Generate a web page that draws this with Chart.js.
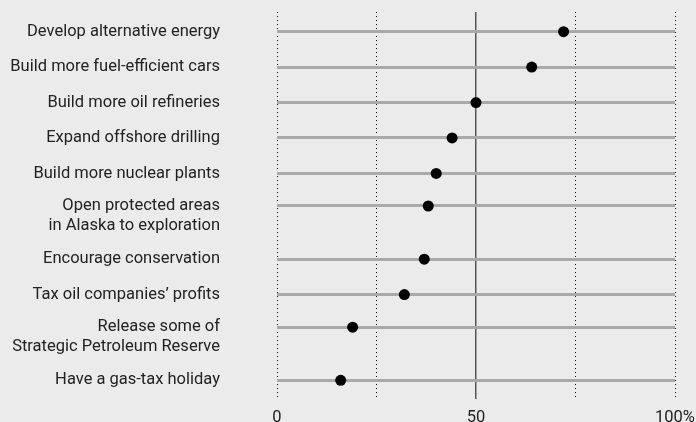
<!DOCTYPE html>
<html>
<head>
<meta charset="utf-8">
<script src="https://cdn.jsdelivr.net/npm/chart.js@4"></script>
<style>
  html, body { margin: 0; padding: 0; background: #ebebeb; overflow: hidden; }
  #wrap { width: 696px; height: 422px; overflow: hidden; }
  canvas { display: block; }
</style>
</head>
<body>
<div id="wrap"><canvas id="c" width="696" height="434"></canvas></div>
<script>
// survey answers, top to bottom
const categories = [
  ['Develop alternative energy'],
  ['Build more fuel-efficient cars'],
  ['Build more oil refineries'],
  ['Expand offshore drilling'],
  ['Build more nuclear plants'],
  ['Open protected areas', 'in Alaska to exploration'],
  ['Encourage conservation'],
  ['Tax oil companies\u2019 profits'],
  ['Release some of', 'Strategic Petroleum Reserve'],
  ['Have a gas-tax holiday']
];
const values = [72, 64, 50, 44, 40, 38, 37, 32, 19, 16];
const xTicks = [0, 25, 50, 75, 100];
const xTickLabels = ['0', '', '50', '', '100%'];

// rows with a second label line get a bit more room below them
const rowPos = [];
categories.forEach((lines, i) => {
  if (i === 0) { rowPos.push(0); return; }
  let step = 1;
  if (lines.length > 1) step -= 0.08;
  if (categories[i - 1].length > 1) step += 0.5;
  rowPos.push(rowPos[i - 1] + step);
});

const FONT = { family: 'Roboto, "Noto Sans", sans-serif', size: 16.5 };
const INK = '#222';
const CLEAR = 'rgba(0,0,0,0)';

new Chart(document.getElementById('c'), {
  type: 'scatter',
  data: {
    datasets: [{
      data: values.map((v, i) => ({ x: v, y: rowPos[i] })),
      backgroundColor: '#000',
      borderColor: '#000',
      pointRadius: 5.5,
      pointHoverRadius: 5.5,
      borderWidth: 0
    }]
  },
  options: {
    responsive: false,
    animation: false,
    layout: { padding: { top: 12, right: 21, left: 0, bottom: 0 } },
    plugins: { legend: { display: false }, tooltip: { enabled: false } },
    scales: {
      x: {
        type: 'linear',
        min: 0, max: 100,
        afterBuildTicks: s => { s.ticks = xTicks.map(v => ({ value: v })); },
        afterFit: s => { s.height = 35; },
        border: {
          display: false,
          dash: ctx => ctx.tick && ctx.tick.value === 50 ? [] : [1, 3]
        },
        grid: {
          tickLength: 9,
          tickColor: CLEAR,
          color: ctx => ctx.tick && ctx.tick.value === 50 ? '#555' : '#111',
          lineWidth: ctx => ctx.tick && ctx.tick.value === 50 ? 1.5 : 1
        },
        ticks: {
          padding: 0,
          autoSkip: false,
          maxRotation: 0,
          color: INK,
          font: FONT,
          callback: (v) => xTickLabels[xTicks.indexOf(v)]
        }
      },
      y: {
        type: 'linear',
        reverse: true,
        min: -0.556,
        max: rowPos[rowPos.length - 1] + 0.528,
        afterBuildTicks: s => { s.ticks = rowPos.map(v => ({ value: v })); },
        afterFit: s => { s.width = 277; },
        border: { display: false },
        grid: { tickLength: 57, tickColor: CLEAR, color: '#a9a9a9', lineWidth: 3 },
        ticks: {
          padding: 0,
          autoSkip: false,
          color: INK,
          font: FONT,
          callback: (v, i) => {
            const lines = categories[i];
            // keep the first line level with the row
            return lines.length > 1 ? [''].concat(lines) : lines[0];
          }
        }
      }
    }
  }
});
</script>
</body>
</html>
